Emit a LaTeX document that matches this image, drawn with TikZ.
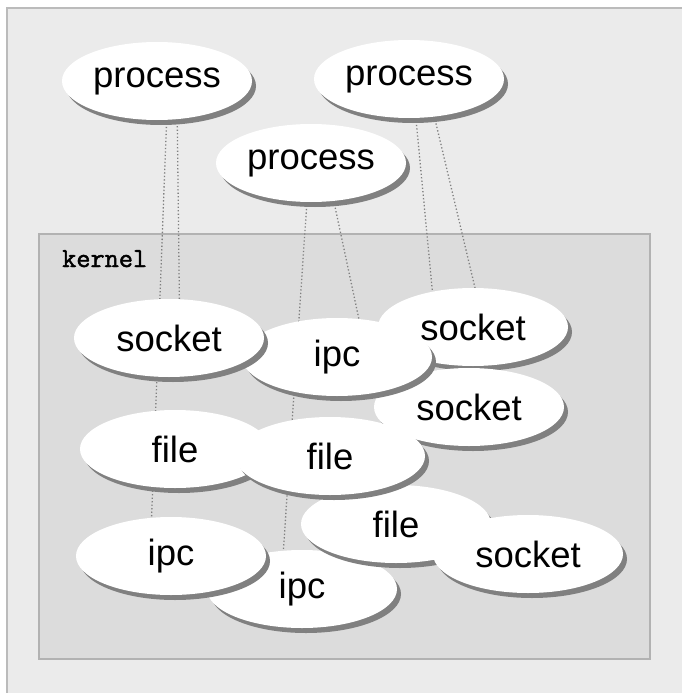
\documentclass[tikz,border=0pt]{standalone}
\usepackage{fontspec}
\setmainfont{Liberation Sans}
\newfontfamily\kernfont[FakeBold=1.6]{Latin Modern Mono}
\usetikzlibrary{shapes.geometric,shadows}
\pgfdeclarelayer{frame}
\pgfdeclarelayer{links}
\pgfsetlayers{frame,links,main}
\definecolor{paper}{HTML}{EBEBEB}
\definecolor{paperline}{HTML}{BBBBBB}
\definecolor{kernelfill}{HTML}{DCDCDC}
\definecolor{kernelline}{HTML}{B2B2B2}
\definecolor{shadowgray}{HTML}{808080}
\definecolor{linkgray}{HTML}{808080}

\begin{document}
\begin{tikzpicture}[
    x=1pt, y=-1pt,
    blob/.style={
        ellipse,
        fill=white,
        inner sep=0pt,
        outer sep=0pt,
        minimum width=190pt,
        minimum height=78pt,
        font=\fontsize{36.5}{40}\selectfont,
        drop shadow={shadow xshift=4pt, shadow yshift=-5pt, fill=shadowgray, opacity=1}
    },
    link/.style={draw=linkgray, line width=1.3pt, dash pattern=on 1.3pt off 2.2pt}
]
\useasboundingbox (0,0) rectangle (682,693);

\begin{pgfonlayer}{frame}
\fill[white] (0,0) rectangle (682,693);
\fill[paper] (7,8) rectangle (682,693);
\draw[paperline, line width=1.5pt] (7,693) -- (7,8) -- (682,8);
\draw[kernelline, fill=kernelfill, line width=1.5pt] (39,234) rectangle (650,659);
\end{pgfonlayer}

\node[font=\fontsize{27.5}{30}\selectfont\kernfont, anchor=base west, inner sep=0pt] (klabel) at (62,267) {kernel};

% processes
\node[blob] (proca) at (157,81) {process};
\node[blob] (procb) at (409,79) {process};
\node[blob] (procc) at (311,163) {process};

% kernel objects
\node[blob] (sockb) at (473,327) {socket};
\node[blob] (sockc) at (469,407) {socket};
\node[blob] (ipcm) at (337,357) {ipc};
\node[blob] (socka) at (169,338) {socket};
\node[blob] (ipcb) at (302,589) {ipc};
\node[blob] (ipcl) at (171,556) {ipc};
\node[blob] (filer) at (396,524) {file};
\node[blob] (sockr) at (528,554) {socket};
\node[blob] (filel) at (175,449) {file};
\node[blob] (filem) at (330,456) {file};

\begin{pgfonlayer}{links}
\draw[link] (proca.-76) -- (ipcl.117);
\draw[link] (proca.-62) -- (socka.75);
\draw[link] (procc.-96) -- (ipcb.116);
\draw[link] (procc.-59) -- (ipcm.60);
\draw[link] (procb.-80) -- (sockb.139);
\draw[link] (procb.-56) -- (sockb.87);
\end{pgfonlayer}
\end{tikzpicture}
\end{document}
